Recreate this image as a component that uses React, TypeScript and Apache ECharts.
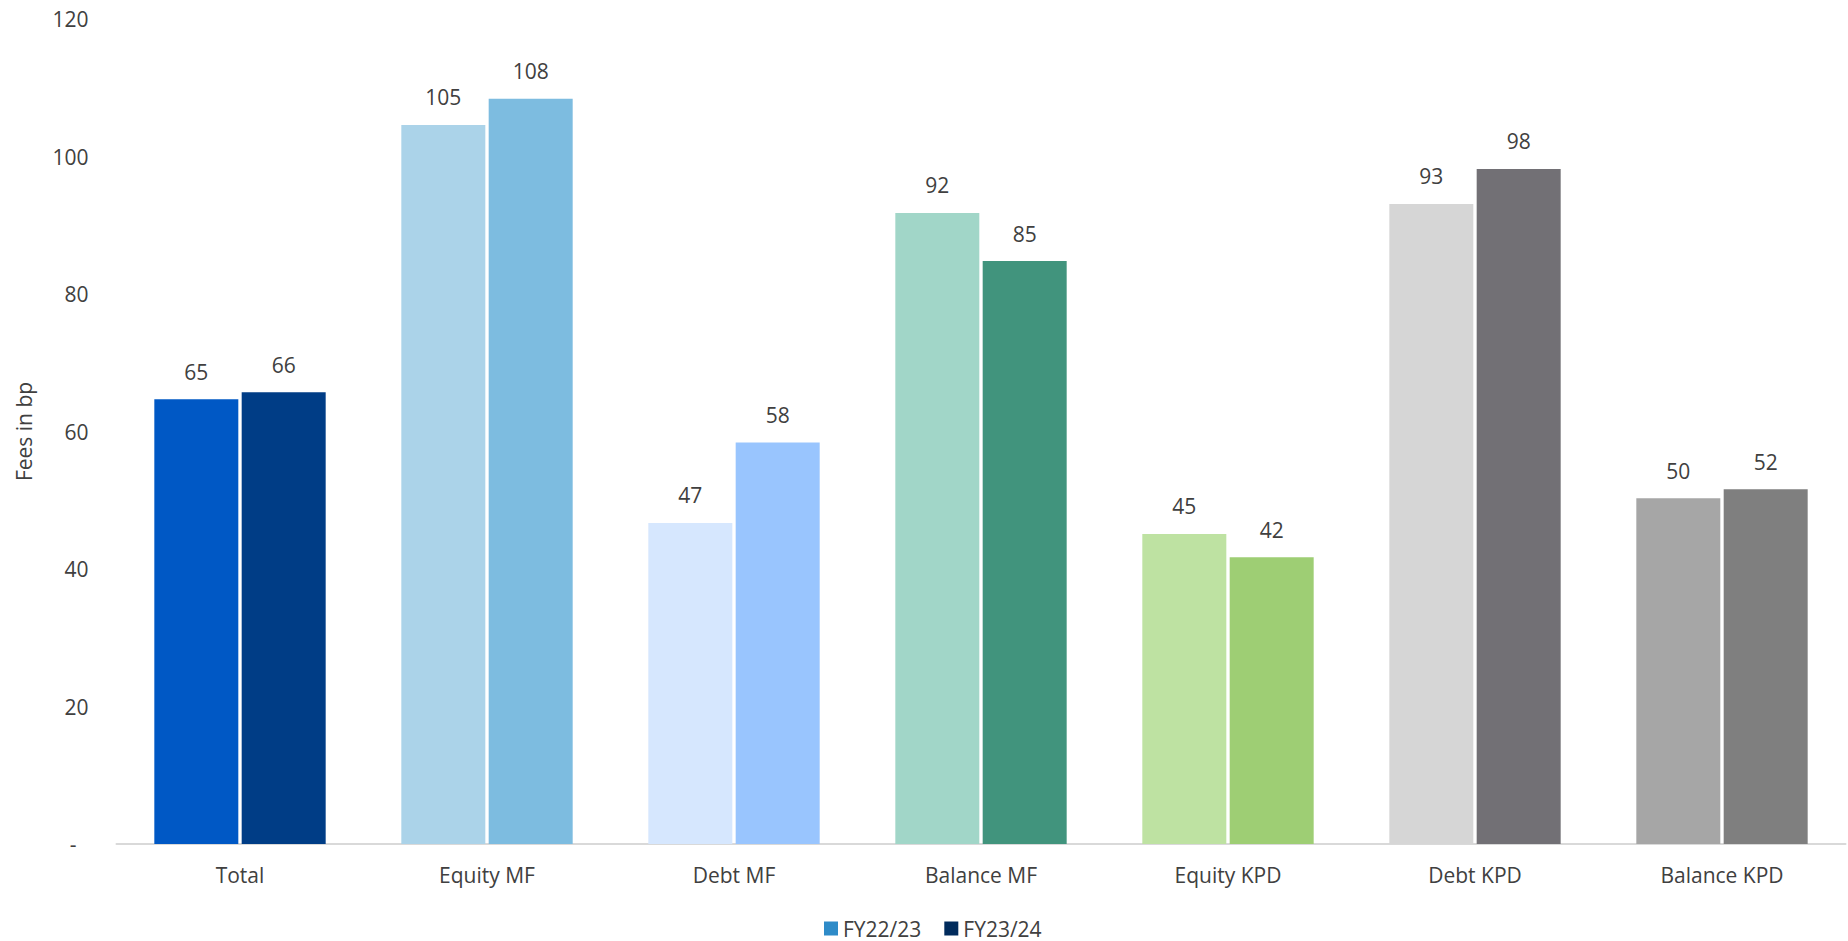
import React, { useEffect, useRef } from "react";
import * as echarts from "echarts";

// Fee levels per product, in basis points
const categories = ["Total", "Equity MF", "Debt MF", "Balance MF", "Equity KPD", "Debt KPD", "Balance KPD"];
const seriesNames = ["FY22/23", "FY23/24"];
const fy2223 = [64.7, 104.6, 46.7, 91.8, 45.1, 93.1, 50.3];
const fy2324 = [65.7, 108.4, 58.4, 84.8, 41.7, 98.2, 51.6];

// Each product has its own pair of shades (earlier year, later year)
const colorsFy2223 = ["#0058C5", "#ABD3E9", "#D6E7FE", "#A1D6C8", "#BEE2A2", "#D6D6D6", "#A6A6A6"];
const colorsFy2324 = ["#003D86", "#7DBCE0", "#99C5FE", "#41947D", "#9ECE74", "#727075", "#7F7F7F"];
const legendColors = ["#2E8BC8", "#002B5C"];

const yTicks = { min: 0, max: 120, interval: 20 };

const FONT = "'Open Sans', sans-serif";
const TEXT = "#404040";

export default function App() {
  const ref = useRef<HTMLDivElement>(null);

  useEffect(() => {
    if (!ref.current) return;
    const chart = echarts.init(ref.current, undefined, { renderer: "svg" });

    const makeSeries = (name: string, values: number[], colors: string[], base: string) => ({
      name,
      type: "bar",
      barWidth: 84,
      barGap: "4%",
      color: base,
      data: values.map((v, i) => ({ value: v, itemStyle: { color: colors[i] } })),
      label: {
        show: true,
        position: "top",
        distance: 17,
        fontFamily: FONT,
        fontSize: 21,
        color: TEXT,
        formatter: (p: any) => String(Math.round(p.value)),
      },
    });

    chart.setOption({
      animation: false,
      textStyle: { fontFamily: FONT },
      grid: { left: 116.5, right: 2.5, top: 19, bottom: 97, containLabel: false },
      legend: {
        data: seriesNames,
        top: 913,
        left: 819,
        icon: "rect",
        itemWidth: 14,
        itemHeight: 14,
        itemGap: 23,
        textStyle: { fontFamily: FONT, fontSize: 21, color: TEXT },
      },
      xAxis: {
        type: "category",
        data: categories,
        axisTick: { show: false },
        axisLine: { lineStyle: { color: "#D9D9D9", width: 2 } },
        axisLabel: { fontFamily: FONT, fontSize: 21, color: TEXT, margin: 20 },
      },
      yAxis: {
        type: "value",
        min: yTicks.min,
        max: yTicks.max,
        interval: yTicks.interval,
        name: "Fees in bp",
        nameLocation: "middle",
        nameGap: 82,
        nameTextStyle: { fontFamily: FONT, fontSize: 21, color: TEXT },
        splitLine: { show: false },
        axisLine: { show: false },
        axisTick: { show: false },
        axisLabel: {
          fontFamily: FONT,
          fontSize: 21,
          color: TEXT,
          margin: 28,
          formatter: (v: number) => (v === 0 ? "{d|-}" : String(v)),
          rich: { d: { fontFamily: FONT, fontSize: 21, color: TEXT, padding: [0, 12, 0, 0] } },
        },
      },
      series: [
        makeSeries(seriesNames[0], fy2223, colorsFy2223, legendColors[0]),
        makeSeries(seriesNames[1], fy2324, colorsFy2324, legendColors[1]),
      ],
    });

    return () => chart.dispose();
  }, []);

  return (
    <div
      ref={ref}
      style={{ position: "absolute", left: 0, top: 0, width: 1848, height: 941, background: "#fff" }}
    />
  );
}
